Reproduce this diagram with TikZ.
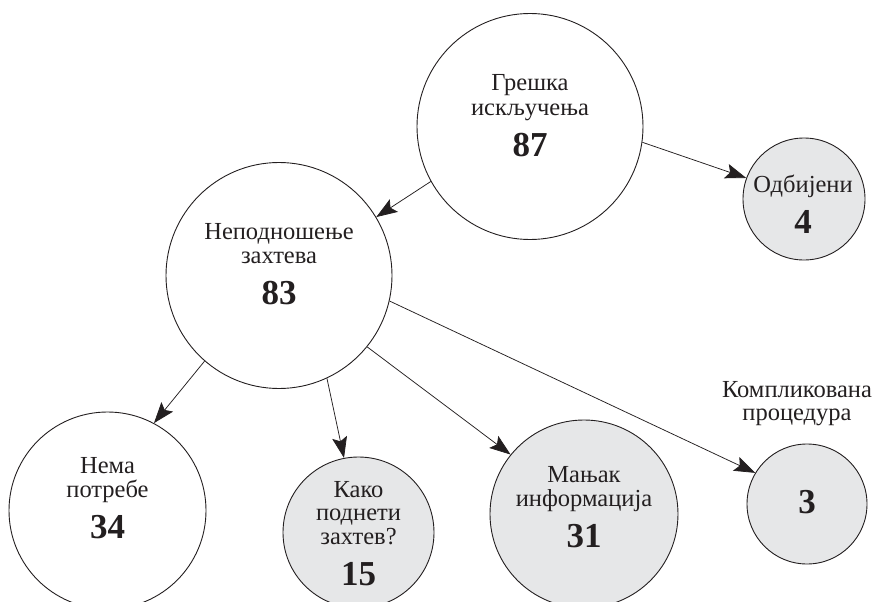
\documentclass[tikz,border=0pt]{standalone}
\usepackage{fontspec}
\setmainfont{Liberation Serif}
\usetikzlibrary{arrows.meta}
\definecolor{ink}{RGB}{35,31,32}
\definecolor{fillgray}{RGB}{230,231,232}
\begin{document}
\begin{tikzpicture}[x=1pt,y=-1pt,
  bubble/.style={circle, draw=ink, line width=0.9pt, inner sep=0pt, minimum size=#1},
  greybubble/.style={bubble=#1, fill=fillgray},
  lbl/.style={anchor=base, inner sep=0pt, text=ink, font=\fontsize{24.5}{24}\selectfont},
  num/.style={anchor=base, inner sep=0pt, text=ink, font=\fontsize{35}{35}\selectfont\bfseries},
  conn/.style={draw=ink, line width=0.75pt, -{Stealth[length=21pt, width=15pt, inset=4pt]}}
]
\useasboundingbox (0,0) rectangle (876,602);
\clip (0,0) rectangle (876,602);

% circles
\node[bubble=226pt] (gr) at (530,126.5) {};
\node[greybubble=122pt] (od) at (804,199) {};
\node[bubble=226pt] (nep) at (279,275.5) {};
\node[bubble=197pt] (nema) at (107.5,510.5) {};
\node[greybubble=151pt] (kako) at (358.5,532.5) {};
\node[greybubble=188pt] (manj) at (584,514) {};
\node[greybubble=120pt] (tri) at (807,504) {};

% texts
\node[lbl] (gr1) at (530,91) {Грешка};
\node[lbl] (gr2) at (530,115) {искључења};
\node[num] (gr3) at (530,156) {87};

\node[lbl] (od1) at (803,192) {Одбијени};
\node[num] (od2) at (803,233) {4};

\node[lbl] (nep1) at (279,239) {Неподношење};
\node[lbl] (nep2) at (279,263) {захтева};
\node[num] (nep3) at (279,304) {83};

\node[lbl] (nema1) at (107.5,473) {Нема};
\node[lbl] (nema2) at (107.5,497) {потребе};
\node[num] (nema3) at (107.5,538) {34};

\node[lbl] (kako1) at (358.5,497) {Како};
\node[lbl] (kako2) at (358.5,520) {поднети};
\node[lbl] (kako3) at (358.5,544) {захтев?};
\node[num] (kako4) at (358.5,585) {15};

\node[lbl] (manj1) at (584,482) {Мањак};
\node[lbl] (manj2) at (584,506) {информација};
\node[num] (manj3) at (584,547) {31};

\node[num] (tri1) at (807,513) {3};
\node[lbl] (kp1) at (797,397) {Компликована};
\node[lbl] (kp2) at (797,420) {процедура};

% connectors
\draw[conn] (gr.209.5) -- (nep.31);
\draw[conn] (gr.-8) -- (od.160);
\draw[conn] (nep.229.4) -- (nema.62.8);
\draw[conn] (nep.-65.5) -- (kako.101.3);
\draw[conn] (nep.-39.6) -- (manj.141.6);
\draw[conn] (nep.-13.9) -- (tri.149.2);
\end{tikzpicture}
\end{document}
